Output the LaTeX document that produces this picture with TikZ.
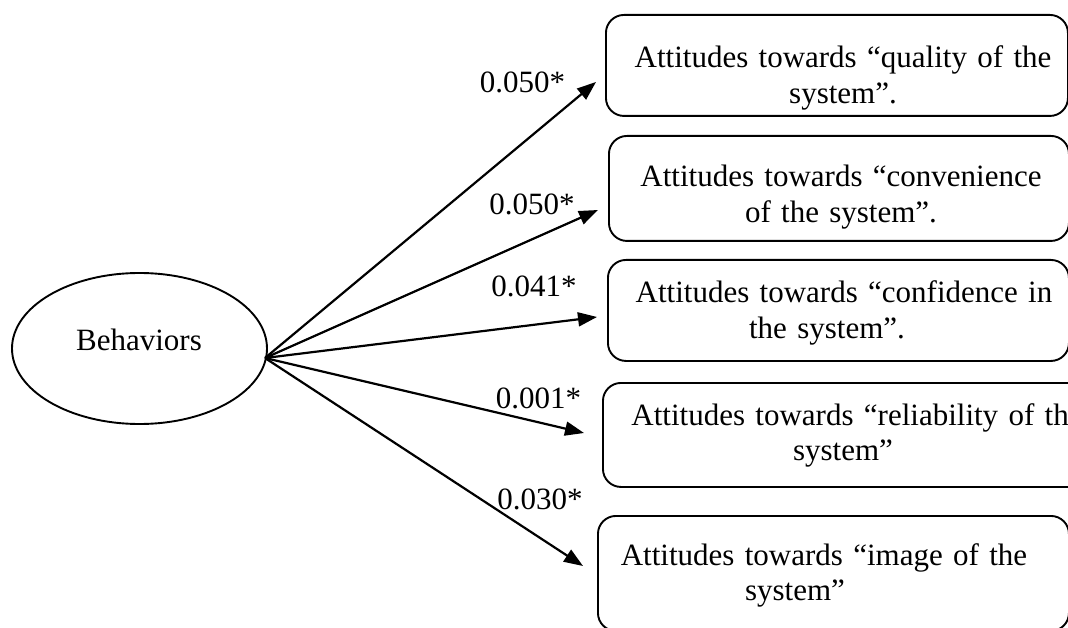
\documentclass[tikz,border=0pt]{standalone}
\usepackage{fontspec}
\setmainfont{Liberation Serif}
\usetikzlibrary{shapes.geometric,arrows.meta}
\begin{document}
\begin{tikzpicture}[x=1pt,y=-1pt,
  every node/.style={font=\fontsize{31}{35.5}\selectfont},
  box/.style={draw,rounded corners=18pt,line width=1.9pt,inner sep=0pt,anchor=north west},
  boxtext/.style={text width=600pt,align=center,anchor=base,inner sep=0pt},
  coef/.style={anchor=base,inner sep=0pt},
  link/.style={line width=2.2pt,-{Triangle[length=19pt,width=14pt]}}]
\useasboundingbox (0,0) rectangle (1068,628);
\clip (0,0) rectangle (1068,628);

% ellipse
\node[draw,ellipse,line width=1.9pt,minimum width=255pt,minimum height=151pt,inner sep=0pt] (beh) at (139.5,348.5) {};
\node[coef] (behtxt) at (139,350) {Behaviors};

% boxes
\node[box,minimum width=462pt,minimum height=101pt] (b1) at (605,14) {};
\node[box,minimum width=460pt,minimum height=105pt] (b2) at (608,135) {};
\node[box,minimum width=461pt,minimum height=101pt] (b3) at (607,259) {};
\node[box,minimum width=488pt,minimum height=104pt] (b4) at (602,382) {};
\node[box,minimum width=471pt,minimum height=115pt] (b5) at (597,515) {};

% box texts
\node[boxtext] (t1) at (843,68) {Attitudes towards “quality of the\\ system”.};
\node[boxtext] (t2) at (841,187) {Attitudes towards “convenience\\ of the system”.};
\node[boxtext] (t3) at (844,303) {Attitudes towards “confidence in\\ the system”.\hspace*{34pt}\mbox{}};
\node[boxtext] (t4) at (857,425) {Attitudes towards “reliability of the\\ system”\hspace*{28pt}\mbox{}};
\node[boxtext] (t5) at (824,565) {Attitudes towards “image of the\\ system”\hspace*{58pt}\mbox{}};

% connectors
\coordinate (src) at (265,358);
\coordinate (e1) at (596,82);
\coordinate (e2) at (598,210);
\coordinate (e3) at (597,317);
\coordinate (e4) at (584,433);
\coordinate (e5) at (583,566);
\draw[link] (src) -- (e1);
\draw[link] (src) -- (e2);
\draw[link] (src) -- (e3);
\draw[link] (src) -- (e4);
\draw[link] (src) -- (e5);

% coefficients
\node[coef] (c1) at (522.5,93) {0.050*};
\node[coef] (c2) at (532,215) {0.050*};
\node[coef] (c3) at (534,297) {0.041*};
\node[coef] (c4) at (538.5,408) {0.001*};
\node[coef] (c5) at (540,509) {0.030*};
\end{tikzpicture}
\end{document}
